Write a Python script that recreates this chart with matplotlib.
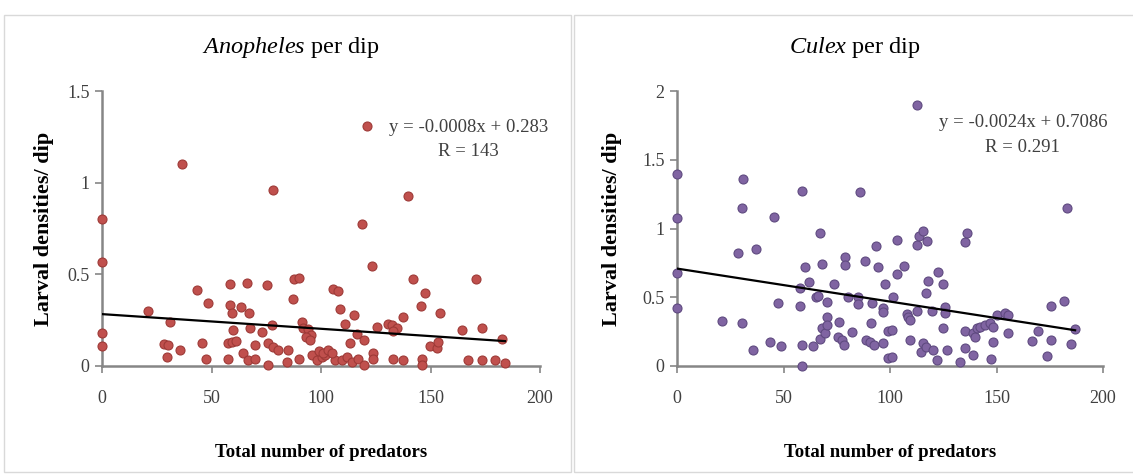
import matplotlib.pyplot as plt
from matplotlib.patches import Rectangle

plt.rcParams["font.family"] = ["Liberation Serif", "DejaVu Serif"]
plt.rcParams["mathtext.fontset"] = "custom"
plt.rcParams["mathtext.rm"] = "Liberation Serif"
plt.rcParams["mathtext.it"] = "Liberation Serif:italic"

# Anopheles per dip
anoph_x = [0, 0, 0, 0,
           21, 31, 28.5, 30, 29.5, 35.6, 36.4, 43.2, 45.5, 47.5, 48.5,
           58.4, 58.4, 59.5, 63.3, 66.3, 67.3, 60, 67.6, 72.9, 77.5, 75.5, 78.2,
           87.8, 90.1, 87.3, 91.2, 92, 94, 95.5, 93, 95,
           57.7, 59.5, 61, 57.7, 64.5, 66.8, 69.9, 69.9, 76, 78.2, 80.5, 76, 85, 84.3, 90,
           95.7, 98, 100.3, 101.8, 106.4, 109.5, 111.8, 114, 117.1, 119.8, 99, 101, 103, 105,
           123.9, 123.9, 133, 137.6, 146, 146, 167.3, 173.4, 179.5, 184,
           105.6, 107.6, 108.7, 115.2, 111, 116.3, 119.8, 113.2, 118.6, 120.9, 123.1, 125.4,
           130.7, 132.5, 134.5, 133, 137.6, 139.9, 142.2, 145.5, 147.5,
           149.8, 152.8, 153.6, 154.3, 164.2, 171, 173.4, 182.5]
anoph_y = [0.80, 0.57, 0.18, 0.11,
           0.30, 0.24, 0.12, 0.115, 0.05, 0.085, 1.10, 0.415, 0.125, 0.04, 0.345,
           0.45, 0.335, 0.29, 0.32, 0.455, 0.29, 0.196, 0.205, 0.187, 0.224, 0.44, 0.96,
           0.473, 0.478, 0.364, 0.242, 0.21, 0.2, 0.17, 0.16, 0.14,
           0.125, 0.13, 0.135, 0.04, 0.07, 0.033, 0.04, 0.115, 0.125, 0.105, 0.087, 0.005, 0.087, 0.023, 0.04,
           0.06, 0.033, 0.05, 0.06, 0.033, 0.033, 0.05, 0.023, 0.04, 0.005, 0.08, 0.07, 0.085, 0.07,
           0.07, 0.04, 0.04, 0.033, 0.04, 0.005, 0.033, 0.033, 0.033, 0.015,
           0.42, 0.41, 0.31, 0.28, 0.23, 0.175, 0.142, 0.124, 0.775, 1.31, 0.545, 0.215,
           0.23, 0.225, 0.21, 0.19, 0.266, 0.927, 0.473, 0.325, 0.40,
           0.11, 0.10, 0.13, 0.29, 0.196, 0.473, 0.21, 0.147]

# Culex per dip
culex_x = [0, 0, 0, 0,
           21, 30.4, 28.5, 31.1, 30.4, 35.5, 36.9, 43.5, 45.5, 47.6, 48.6,
           57.7, 57.7, 58.8, 58.8, 58.8, 60.1, 62, 64, 65.1, 66.3, 67.1, 67.1, 67.9, 68.2, 69.5,
           70.3, 70.3, 70.3, 73.9, 75.7, 76.2, 77.3, 78.2, 78.9, 78.9, 80.4, 82, 85.1, 85.1, 85.9,
           88.3, 88.5, 90.6, 91.1, 91.4, 92.5, 93.4, 94.5, 96.6, 96.9, 96.9, 97.7, 99.2, 99.2,
           100.8, 100.8, 101.6, 103.4, 103.4, 106.6, 107.8, 108.6, 109.4, 109.4, 112.5, 112.5,
           112.8, 113.8, 114.7, 115.3, 115.4, 116.9, 117, 117.2, 118, 119.6, 120.2,
           121.9, 122.7, 124.7, 124.7, 125.8, 125.8, 126.9, 132.9, 135.2, 135.2, 135.2,
           136, 139.1, 139.1, 139.9, 140.7, 142.3, 144.6, 147, 147.3, 148.5, 148.5,
           150.1, 154, 155.5, 155.5, 166.5, 169.6, 173.6, 175.6, 175.6, 181.8, 182.9, 185, 186.9]
culex_y = [1.40, 1.08, 0.674, 0.424,
           0.33, 0.31, 0.824, 1.358, 1.15, 0.116, 0.848, 0.177, 1.086, 0.46, 0.147,
           0.565, 0.44, 1.27, 0.153, 0.0, 0.72, 0.61, 0.147, 0.504, 0.51, 0.965, 0.2, 0.274, 0.74, 0.238,
           0.468, 0.36, 0.30, 0.596, 0.213, 0.318, 0.19, 0.153, 0.795, 0.735, 0.504, 0.25, 0.5, 0.45, 1.268,
           0.763, 0.19, 0.177, 0.315, 0.456, 0.153, 0.875, 0.718, 0.17, 0.42, 0.395, 0.596, 0.257, 0.056,
           0.262, 0.063, 0.504, 0.916, 0.667, 0.727, 0.376, 0.36, 0.335, 0.19, 1.898, 0.88,
           0.40, 0.945, 0.104, 0.984, 0.17, 0.528, 0.14, 0.91, 0.62, 0.40, 0.116,
           0.044, 0.686, 0.6, 0.28, 0.43, 0.383, 0.116, 0.03, 0.257, 0.128, 0.904,
           0.97, 0.238, 0.08, 0.213, 0.274, 0.286, 0.298, 0.31, 0.049, 0.286, 0.177,
           0.37, 0.383, 0.37, 0.238, 0.182, 0.257, 0.075, 0.19, 0.44, 0.473, 1.15, 0.158, 0.267]

# trend lines as printed on the chart
anoph_fit = (-0.0008, 0.283)
culex_fit = (-0.0024, 0.7086)

W, H = 1133, 475
fig = plt.figure(figsize=(W / 100, H / 100), dpi=100)

# panel frames
for x0, x1 in [(4, 571), (574, 1140)]:
    fig.add_artist(Rectangle((x0 / W, 1 - 472 / H), (x1 - x0) / W, (472 - 15) / H,
                             transform=fig.transFigure, fill=False,
                             edgecolor="#d9d9d9", lw=1))

grey = "#868686"
txt = "#404040"


def panel(rect, xs, ys, fit, color, edge, ymax, yticks, yticklabels, title,
          eq, eq_pos, title_x, ylab_x):
    ax = fig.add_axes(rect)
    ax.scatter(xs, ys, s=42, color=color, edgecolors=edge, linewidths=0.8,
               clip_on=False, zorder=3)
    lx = [0, max(xs)]
    ax.plot(lx, [fit[0] * v + fit[1] for v in lx], color="black", lw=1.6, zorder=4)
    ax.set_xlim(0, 200)
    ax.set_ylim(0, ymax)
    ax.set_xticks([0, 50, 100, 150, 200])
    ax.set_yticks(yticks)
    ax.set_yticklabels(yticklabels)
    for s in ["top", "right"]:
        ax.spines[s].set_visible(False)
    for s in ["left", "bottom"]:
        ax.spines[s].set_color(grey)
        ax.spines[s].set_linewidth(1.8)
    ax.tick_params(axis="both", direction="out", length=5, width=1.2,
                   color=grey, labelcolor=txt, labelsize=13)
    ax.tick_params(axis="x", pad=12)
    ax.tick_params(axis="y", pad=4)
    ax.set_xlabel("Total number of predators", fontsize=13.5, fontweight="bold")
    ax.xaxis.set_label_coords(0.5, -0.285)
    ax.set_ylabel("Larval densities/ dip", fontsize=16, fontweight="bold")
    ax.yaxis.set_label_coords(ylab_x, 0.5)
    ax.text(eq_pos[0], eq_pos[1], eq, transform=ax.transAxes, ha="center",
            va="center", fontsize=13.5, color=txt, linespacing=1.55)
    fig.text(title_x, 1 - 48 / H, title, ha="center", va="center", fontsize=17.5)
    return ax


panel([102 / W, 1 - 366 / H, 438 / W, 275 / H], anoph_x, anoph_y, anoph_fit,
      "#C0504D", "#9e3a37", 1.5, [0, 0.5, 1, 1.5], ["0", "0.5", "1", "1.5"],
      r"$\mathit{Anopheles}$ per dip",
      "y = -0.0008x + 0.283\nR = 143", (0.836, 0.824), 291 / W, -0.11)

panel([677 / W, 1 - 366 / H, 426 / W, 275 / H], culex_x, culex_y, culex_fit,
      "#8064A2", "#5f4a80", 2, [0, 0.5, 1, 1.5, 2], ["0", "0.5", "1", "1.5", "2"],
      r"$\mathit{Culex}$ per dip",
      "y = -0.0024x + 0.7086\nR = 0.291", (0.812, 0.84), 855 / W, -0.128)

fig.savefig("out.png", dpi=100)
